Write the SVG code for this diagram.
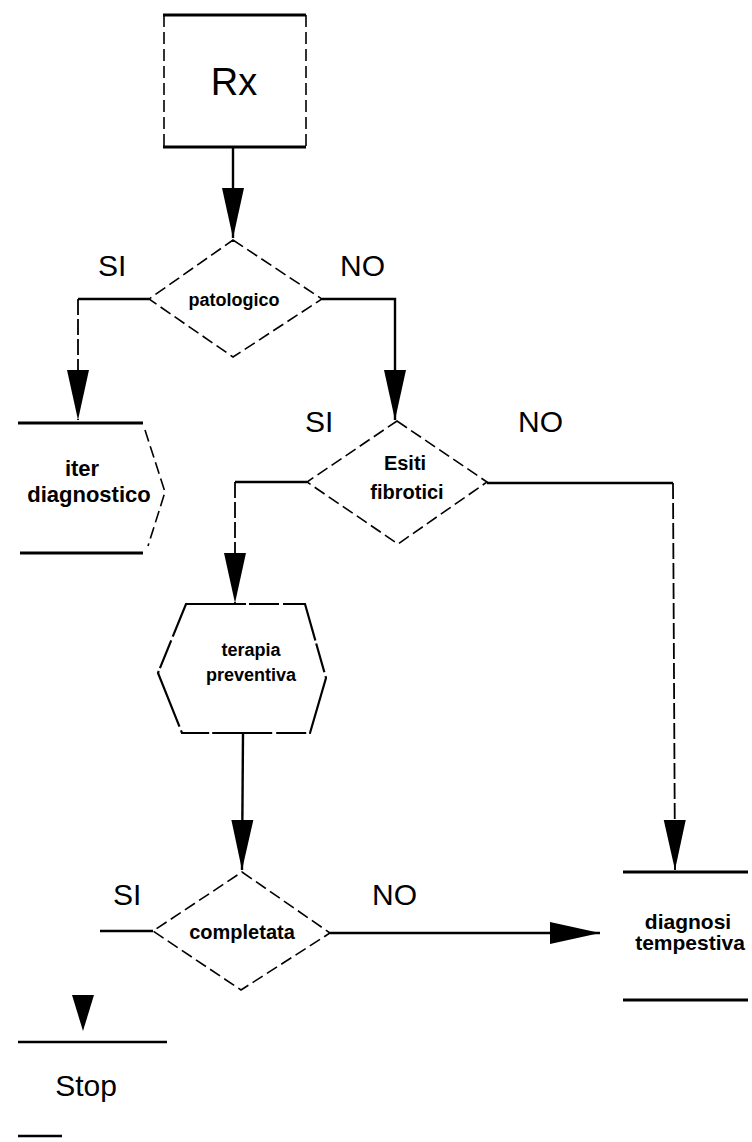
<svg xmlns="http://www.w3.org/2000/svg" width="752" height="1142" viewBox="0 0 752 1142">
<style>
.solid{fill:none;stroke:#000;stroke-width:3}
.dash{fill:none;stroke:#000;stroke-width:1.6;stroke-dasharray:12 5}
.conn{fill:none;stroke:#000;stroke-width:2.4}
.vconn{fill:none;stroke:#000;stroke-width:1.8;stroke-dasharray:16 4}
.lbl{font-family:"Liberation Sans",Arial,sans-serif;font-size:30px;fill:#000}
.txt{font-family:"Liberation Sans",Arial,sans-serif;font-size:18px;font-weight:bold;fill:#000;text-anchor:middle}
</style>
<defs>
<marker id="ah" markerUnits="userSpaceOnUse" markerWidth="50" markerHeight="24" refX="50" refY="12" orient="auto">
<path d="M0,1 L50,12 L0,23 z" fill="#000"/>
</marker>
</defs>
<rect width="752" height="1142" fill="#fff"/>
<g id="rx">
<line class="solid" x1="163" y1="15" x2="306" y2="15"/>
<line class="solid" x1="163" y1="147" x2="306" y2="147"/>
<line class="dash" x1="164" y1="15" x2="164" y2="147"/>
<line class="dash" x1="306" y1="15" x2="306" y2="147"/>
<text x="234" y="95" text-anchor="middle" style="font-family:'Liberation Sans',Arial,sans-serif;font-size:38px;fill:#000">Rx</text>
</g>
<g id="patologico">
<polygon class="dash" points="233,240 322,299 233,357 149,299"/>
<text class="txt" x="234" y="306" style="font-size:18px">patologico</text>
</g>
<g id="iter">
<line class="solid" x1="18" y1="423" x2="143" y2="423"/>
<line class="solid" x1="20" y1="553" x2="143" y2="553"/>
<polyline class="dash" points="145,430 165,492 148,546"/>
<text class="txt" x="82" y="476" style="font-size:22px">iter</text>
<text class="txt" x="89" y="502" style="font-size:22px">diagnostico</text>
</g>
<g id="esiti">
<polygon class="dash" points="397,421 487,482 398,544 307,482"/>
<text class="txt" x="405" y="470" style="font-size:20px">Esiti</text>
<text class="txt" x="407" y="499" style="font-size:20px">fibrotici</text>
</g>
<g id="terapia">
<polygon points="186,604 305,604 326,678 310,733 182,733 158,673" fill="none" stroke="#000" stroke-width="2.2" stroke-dasharray="60 3 30 4"/>
<text class="txt" x="251" y="656" style="font-size:18px">terapia</text>
<text class="txt" x="251" y="681" style="font-size:18px">preventiva</text>
</g>
<g id="completata">
<polygon class="dash" points="242,872 330,933 241,990 153,931"/>
<text class="txt" x="242" y="939" style="font-size:20px">completata</text>
</g>
<g id="diagnosi">
<line class="solid" x1="623" y1="872" x2="748" y2="872"/>
<line class="solid" x1="623" y1="1000" x2="748" y2="1000"/>
<text class="txt" x="688" y="929" style="font-size:21px">diagnosi</text>
<text class="txt" x="690" y="950" style="font-size:21px">tempestiva</text>
</g>
<g id="stop">
<line class="conn" x1="18" y1="1042" x2="167" y2="1042"/>
<line class="conn" x1="18" y1="1136" x2="62" y2="1136"/>
<text x="86" y="1096" text-anchor="middle" style="font-family:'Liberation Sans',Arial,sans-serif;font-size:30px;fill:#000">Stop</text>
</g>
<g id="connectors">
<line class="conn" x1="233" y1="147" x2="233" y2="238" marker-end="url(#ah)"/>
<polyline class="conn" points="149,299 78,299"/>
<line class="vconn" x1="78" y1="299" x2="78" y2="420" marker-end="url(#ah)"/>
<polyline class="conn" points="322,299 395,299 395,420" marker-end="url(#ah)"/>
<polyline class="conn" points="307,482 235,482"/>
<line class="vconn" x1="235" y1="482" x2="235" y2="603" marker-end="url(#ah)"/>
<polyline class="conn" points="487,483 673,483"/>
<line class="vconn" x1="673" y1="483" x2="675" y2="870" marker-end="url(#ah)"/>
<line class="conn" x1="243" y1="733" x2="242" y2="870" marker-end="url(#ah)"/>
<line class="conn" x1="330" y1="933" x2="600" y2="933" marker-end="url(#ah)"/>
<line class="conn" x1="100" y1="931" x2="153" y2="931"/>
<path d="M72,995 L94,995 L83,1031 z" fill="#000"/>
</g>
<g id="labels">
<text class="lbl" x="98" y="276">SI</text>
<text class="lbl" x="340" y="276">NO</text>
<text class="lbl" x="305" y="432">SI</text>
<text class="lbl" x="518" y="432">NO</text>
<text class="lbl" x="113" y="905">SI</text>
<text class="lbl" x="372" y="905">NO</text>
</g>
</svg>
